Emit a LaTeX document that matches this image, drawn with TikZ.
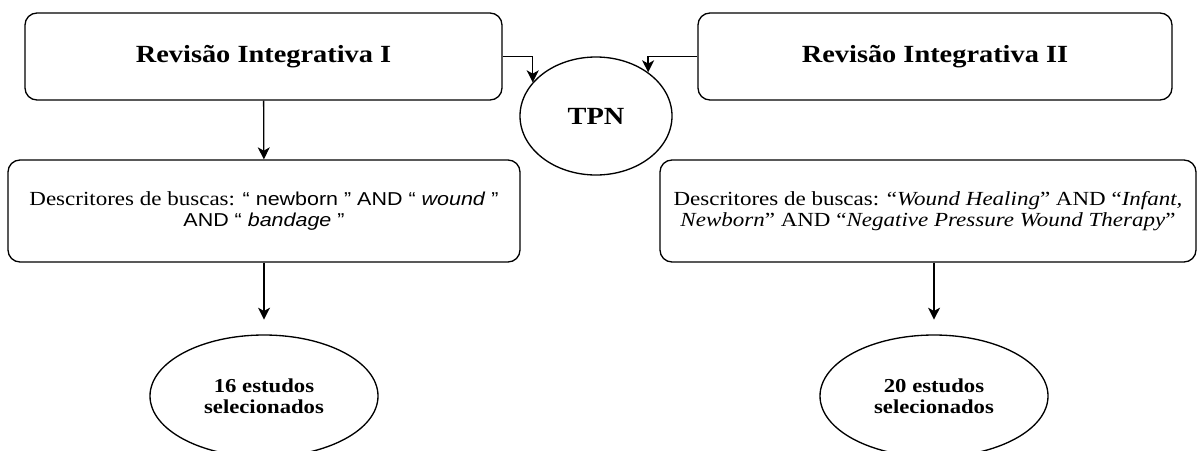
\documentclass[tikz,border=0pt]{standalone}
\usepackage{fontspec}
\setmainfont{Liberation Serif}[FakeStretch=1.15]
\setsansfont{Liberation Sans}[FakeStretch=1.15]
\usetikzlibrary{shapes.geometric,arrows.meta,positioning}

\begin{document}
\begin{tikzpicture}[
			x=0.75pt, y=-0.75pt,
			>={Stealth[length=9pt,width=9pt,inset=2.5pt]},
			line width=1pt,
			titlebox/.style={draw, rounded corners=9pt, minimum height=65.25pt, font=\fontsize{18.5}{20}\selectfont\bfseries},
			searchbox/.style={draw, rounded corners=9pt, minimum height=76.5pt, align=center, font=\fontsize{15}{15.5}\selectfont},
			result/.style={draw, ellipse, minimum width=171pt, minimum height=91.5pt, align=center, font=\fontsize{14.8}{15.5}\selectfont\bfseries}
			]
			\useasboundingbox (0,0) rectangle (1198,450);
			
			\node[titlebox, minimum width=357.75pt] (rev1) at (263.5,56.5) {Revisão Integrativa I};
			\node[titlebox, minimum width=355.5pt] (rev2) at (935,56.5) {Revisão Integrativa II};
			\node[draw, ellipse, minimum width=114pt, minimum height=88.5pt, font=\fontsize{18.5}{20}\selectfont\bfseries] (tpn) at (596,116) {TPN};
			\node[searchbox, minimum width=384pt] (desc1) at (264,211) {Descritores de buscas: {\sffamily\fontsize{14}{15.5}\selectfont “ newborn ” AND “ \textit{wound} ”}\\{\sffamily\fontsize{14}{15.5}\selectfont AND “ \textit{bandage} ”}};
			\node[searchbox, minimum width=402pt] (desc2) at (928,211) {Descritores de buscas: “\textit{Wound Healing}” AND “\textit{Infant,}\\\textit{Newborn}” AND “\textit{Negative Pressure Wound Therapy}”};
			\node[result] (est1) at (264,396) {16 estudos\\selecionados};
			\node[result] (est2) at (934,396) {20 estudos\\selecionados};
			
			\draw[->] (rev1.east) -| (tpn.152);
			\draw[->] (rev2.west) -| (tpn.40);
			\draw[->] (rev1) -- (desc1);
			\draw[->, shorten >=11pt] (desc1) -- (est1);
			\draw[->, shorten >=11pt] (desc2.south -| est2) -- (est2);
		\end{tikzpicture}
\end{document}
